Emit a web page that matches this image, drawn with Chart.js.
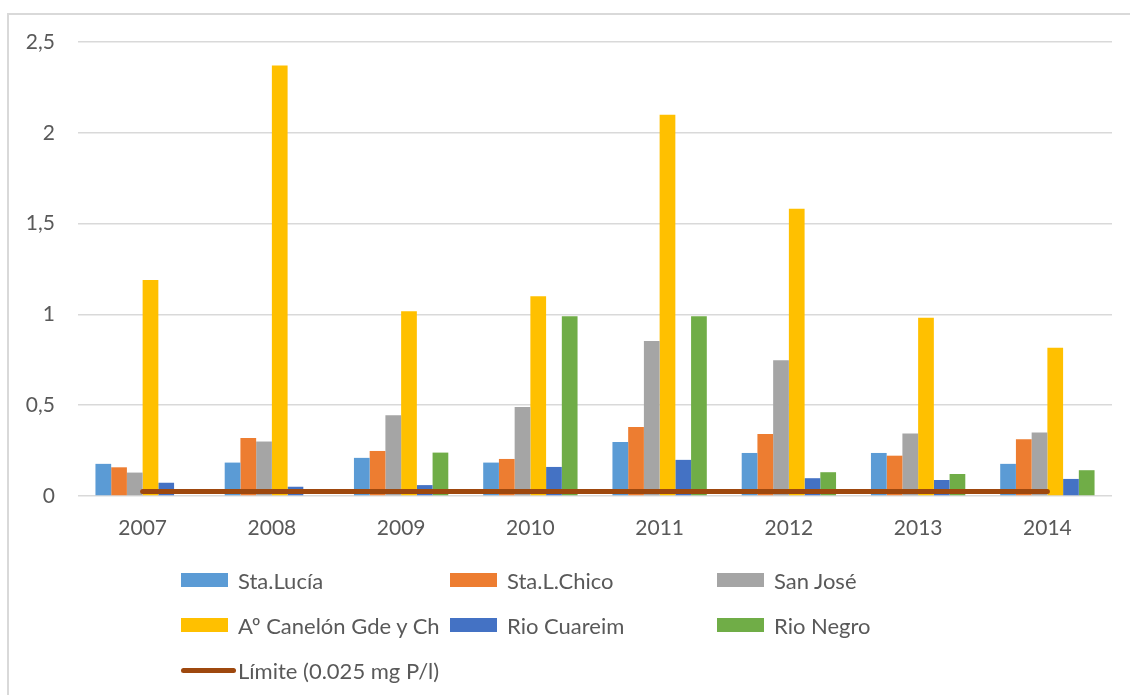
<!DOCTYPE html>
<html>
<head>
<meta charset="utf-8">
<script src="https://cdn.jsdelivr.net/npm/chart.js@4"></script>
<style>
  body { margin: 0; background: #fff; }
  #wrap { position: relative; width: 1130px; height: 695px; }
  #frame { position: absolute; left: 7px; top: 13px; width: 1140px; height: 700px;
           border-left: 2px solid #d9d9d9; border-top: 2px solid #d9d9d9; }
  #legend { position: absolute; left: 181px; top: 566px; width: 820px;
            display: grid; grid-template-columns: 269px 267px 260px; row-gap: 17px;
            font-family: Lato, sans-serif; font-size: 22px; color: #595959; }
  .item { display: flex; align-items: center; height: 28px; white-space: nowrap; }
  .swatch { width: 47px; height: 14px; margin-right: 10px; flex: none; }
  .swatch.line { height: 5px; border-radius: 3px; margin-right: 2px; width: 55px; }
</style>
</head>
<body>
<div id="wrap">
  <div id="frame"></div>
  <canvas id="chart" width="1130" height="695"></canvas>
  <div id="legend"></div>
</div>
<script>
const years = ['2007', '2008', '2009', '2010', '2011', '2012', '2013', '2014'];

const staLucia   = [0.177, 0.184, 0.21, 0.184, 0.298, 0.237, 0.237, 0.177];
const staLChico  = [0.158, 0.32, 0.248, 0.204, 0.38, 0.342, 0.222, 0.313];
const sanJose    = [0.129, 0.30, 0.445, 0.49, 0.854, 0.747, 0.344, 0.349];
const canelon    = [1.19, 2.37, 1.017, 1.10, 2.10, 1.582, 0.982, 0.817];
const rioCuareim = [0.073, 0.051, 0.06, 0.16, 0.199, 0.098, 0.088, 0.094];
const rioNegro   = [0, 0, 0.239, 0.99, 0.99, 0.131, 0.121, 0.142];
const limite     = [0.025, 0.025, 0.025, 0.025, 0.025, 0.025, 0.025, 0.025];

const yTicks = [0, 0.5, 1, 1.5, 2, 2.5];

function bar(label, data, color) {
    return { type: 'bar', label, data, backgroundColor: color, borderWidth: 0, order: 1 };
}

const datasets = [
    bar('Sta.Lucía', staLucia, '#5B9BD5'),
    bar('Sta.L.Chico', staLChico, '#ED7D31'),
    bar('San José', sanJose, '#A5A5A5'),
    bar('Aº Canelón Gde y Ch', canelon, '#FFC000'),
    bar('Rio Cuareim', rioCuareim, '#4472C4'),
    bar('Rio Negro', rioNegro, '#70AD47'),
    {
        type: 'line', label: 'Límite (0.025 mg P/l)', data: limite,
        borderColor: '#9E480E', backgroundColor: '#9E480E', borderWidth: 5,
        borderCapStyle: 'round', pointRadius: 0, order: 0
    }
];

Chart.defaults.font.family = 'Lato, sans-serif';
Chart.defaults.color = '#595959';

const chart = new Chart(document.getElementById('chart'), {
    type: 'bar',
    data: { labels: years, datasets },
    options: {
        responsive: false,
        animation: false,
        layout: { padding: { left: 0, right: 18, top: 42, bottom: 139 } },
        datasets: { bar: { categoryPercentage: 0.73, barPercentage: 1 } },
        plugins: { legend: { display: false }, tooltip: { enabled: false } },
        scales: {
            x: {
                grid: { display: false },
                border: { display: false },
                ticks: { font: { size: 21 }, padding: 12 },
                afterFit: s => { s.height = 60; }
            },
            y: {
                min: 0, max: 2.5,
                afterBuildTicks: s => { s.ticks = yTicks.map(v => ({ value: v })); },
                ticks: {
                    font: { size: 21 }, padding: 23,
                    callback: v => String(v).replace('.', ',')
                },
                grid: { color: '#d9d9d9', lineWidth: 1.5, drawTicks: false },
                border: { display: false },
                afterFit: s => { s.width = 78; }
            }
        }
    }
});

// legend laid out in three columns under the plot
const legend = document.getElementById('legend');
chart.data.datasets.forEach(ds => {
    const item = document.createElement('div');
    item.className = 'item';
    const sw = document.createElement('span');
    sw.className = 'swatch' + (ds.type === 'line' ? ' line' : '');
    sw.style.background = ds.type === 'line' ? ds.borderColor : ds.backgroundColor;
    const txt = document.createElement('span');
    txt.textContent = ds.label;
    item.appendChild(sw);
    item.appendChild(txt);
    legend.appendChild(item);
});
</script>
</body>
</html>
